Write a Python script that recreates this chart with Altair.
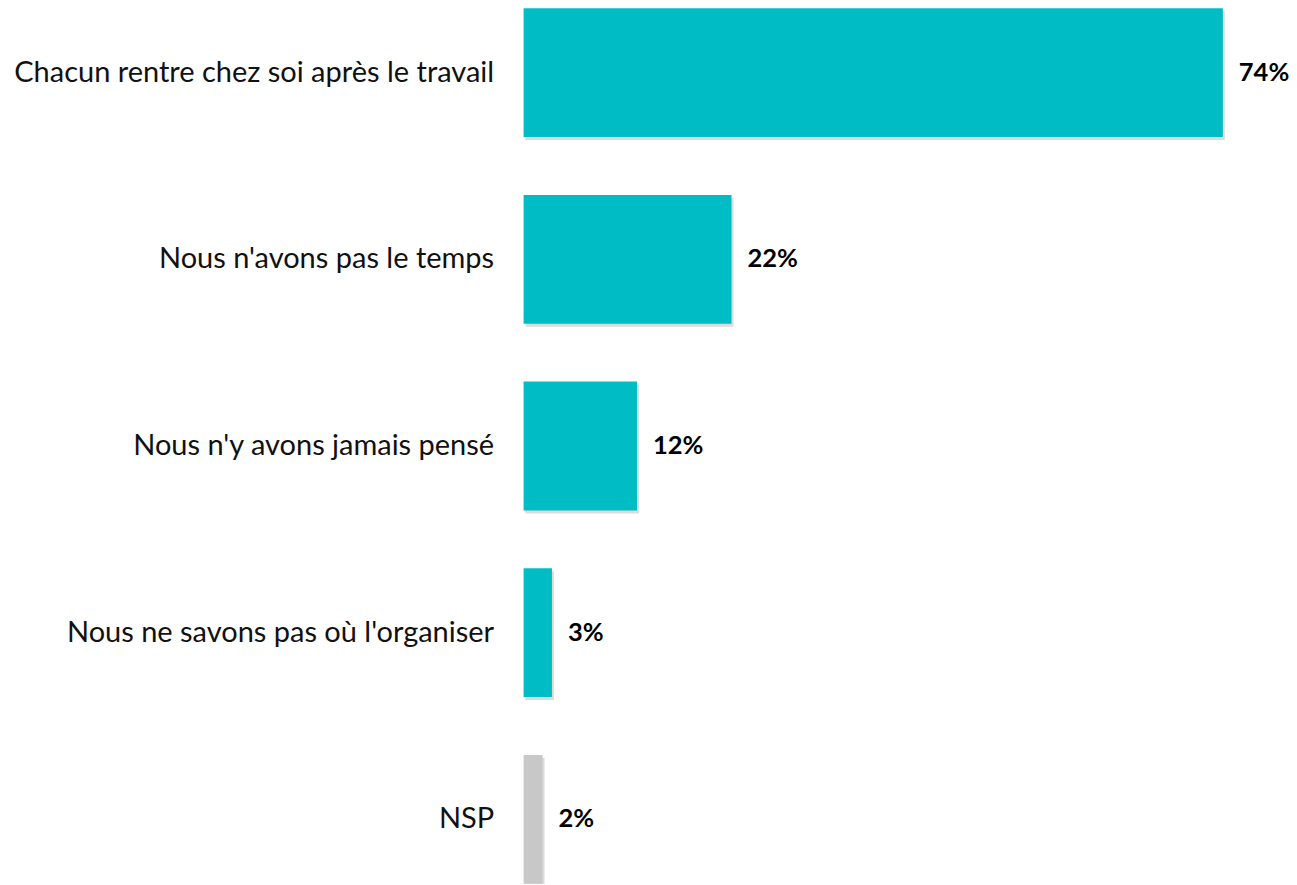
import altair as alt
import pandas as pd

categories = [
    "Chacun rentre chez soi après le travail",
    "Nous n'avons pas le temps",
    "Nous n'y avons jamais pensé",
    "Nous ne savons pas où l'organiser",
    "NSP",
]
values = [74, 22, 12, 3, 2]
labels = ["74%", "22%", "12%", "3%", "2%"]
colors = ["#00BCC4", "#00BCC4", "#00BCC4", "#00BCC4", "#C8C8C8"]

df = pd.DataFrame({"cat": categories, "val": values, "label": labels, "color": colors})

y = alt.Y("cat:N", sort=categories, title=None,
          scale=alt.Scale(paddingInner=0.31, paddingOuter=0),
          axis=alt.Axis(domain=False, ticks=False, labelPadding=30, labelFontSize=29,
                        labelFont="Lato", labelColor="#111111", labelLimit=600))
x = alt.X("val:Q", scale=alt.Scale(domain=[0, 81]), axis=None)

base = alt.Chart(df).encode(y=y, x=x)

shadow = base.mark_bar(color="#999999", opacity=0.35, xOffset=2, yOffset=3)
bars = base.mark_bar().encode(color=alt.Color("color:N", scale=None))
text = base.mark_text(align="left", baseline="middle", dx=16, fontSize=25.5,
                      fontWeight="bold", font="Lato", color="#000000").encode(text="label:N")

chart = alt.layer(shadow, bars, text).properties(
    width=766, height=876,
    autosize=alt.AutoSizeParams(type="none"),
    padding={"left": 516, "top": 0, "right": 0, "bottom": 0},
).configure_view(stroke=None)

chart.save("out.html", embed_options={"renderer": "svg", "actions": False})
